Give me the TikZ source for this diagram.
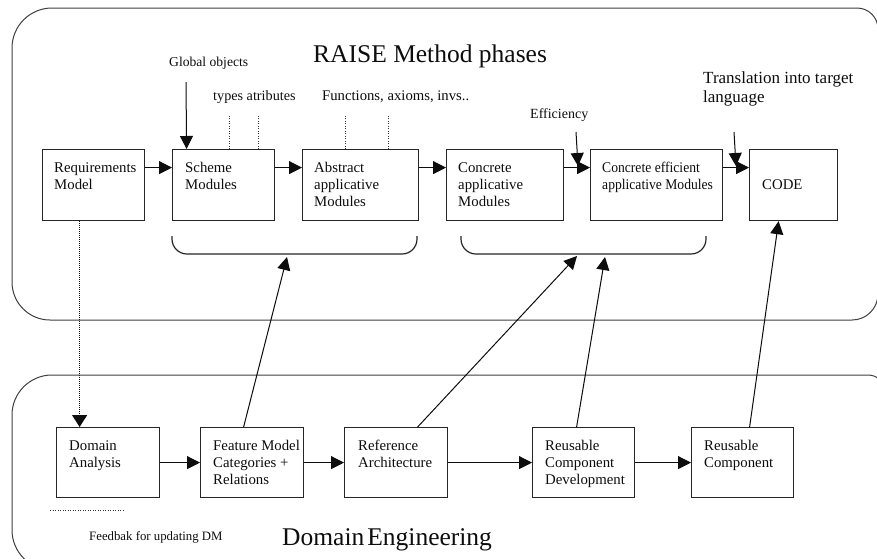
\documentclass[tikz,border=0pt]{standalone}
\usepackage{fontspec}
\setmainfont{Liberation Serif}
\usetikzlibrary{arrows.meta}
\begin{document}
\begin{tikzpicture}[x=1pt,y=-1pt,
  box/.style={draw=black!85, line width=1.2pt, anchor=north west, inner sep=0pt},
  txt/.style={anchor=north west, inner sep=0pt, align=left, text=black!95,
    font={\fontsize{14.8}{17}\selectfont}},
  lbl/.style={anchor=base west, inner sep=0pt, text=black!95},
  arr/.style={draw=black!95, line width=1pt, -{Triangle[length=13pt,width=13pt]}},
  darr/.style={draw=black!95, line width=1.2pt, dash pattern=on 1pt off 1pt, -{Triangle[length=12pt,width=15pt]}},
  tick/.style={draw=black!80, line width=0.8pt, dash pattern=on 1pt off 1.5pt},
  cont/.style={draw=black!75, line width=1pt},
  brace/.style={draw=black!85, line width=1.2pt, rounded corners=15pt}]
\clip (0,0) rectangle (877,558);
\fill[white] (0,0) rectangle (877,558);

% containers
\draw[cont] (12,150) [rounded corners=40pt] -- (12,8) [rounded corners=21pt] -- (878,8)
  [rounded corners=26pt] -- (878,320) [rounded corners=38pt] -- (12,320) -- cycle;
\draw[cont] (12,470) [rounded corners=40pt] -- (12,375) [rounded corners=18pt] -- (886,375)
  -- (886,570) [rounded corners=40pt] -- (12,570) -- cycle;

% titles
\node[lbl, font={\fontsize{25.5}{28}\selectfont}] (title) at (313,62) {RAISE Method phases};
\node[lbl, font={\fontsize{25.5}{28}\selectfont}] (dtitle) at (282,545) {Domain\hspace{3pt}Engineering};

% top row boxes
\node[box, minimum width=102pt, minimum height=71pt] (req) at (42,149) {};
\node[box, minimum width=102pt, minimum height=71pt] (scm) at (172,149) {};
\node[box, minimum width=116pt, minimum height=71pt] (abs) at (302,149) {};
\node[box, minimum width=117pt, minimum height=71pt] (con) at (446,149) {};
\node[box, minimum width=132pt, minimum height=71pt] (eff) at (590,149) {};
\node[box, minimum width=88pt, minimum height=71pt] (code) at (749,149) {};

\node[txt] (reqT) at ([shift={(12pt,-13pt)}]req.north west) {Requirements\\Model};
\node[txt] (scmT) at ([shift={(13pt,-13pt)}]scm.north west) {Scheme\\Modules};
\node[txt] (absT) at ([shift={(12pt,-13pt)}]abs.north west) {Abstract\\applicative\\Modules};
\node[txt] (conT) at ([shift={(12pt,-13pt)}]con.north west) {Concrete\\applicative\\Modules};
\node[txt] (effT) at ([shift={(12pt,-13pt)}]eff.north west) {\scalebox{0.92}[1]{Concrete efficient}\\\scalebox{0.92}[1]{applicative Modules}};
\node[txt, anchor=west] (codeT) at ([xshift=13pt]code.west) {CODE};

% bottom row boxes
\node[box, minimum width=103pt, minimum height=70pt] (dom) at (56,427) {};
\node[box, minimum width=103pt, minimum height=70pt] (feat) at (200,427) {};
\node[box, minimum width=103pt, minimum height=70pt] (ref) at (344,427) {};
\node[box, minimum width=102pt, minimum height=70pt] (rcd) at (532,427) {};
\node[box, minimum width=102pt, minimum height=70pt] (rc) at (691,427) {};

\node[txt] (domT) at ([shift={(13pt,-13pt)}]dom.north west) {Domain\\Analysis};
\node[txt] (featT) at ([shift={(13pt,-13pt)}]feat.north west) {Feature Model\\Categories +\\Relations};
\node[txt] (refT) at ([shift={(14pt,-13pt)}]ref.north west) {Reference\\Architecture};
\node[txt] (rcdT) at ([shift={(13pt,-13pt)}]rcd.north west) {Reusable\\Component\\Development};
\node[txt] (rcT) at ([shift={(13pt,-13pt)}]rc.north west) {Reusable\\Component};

% top row arrows
\draw[arr] ([yshift=17.5pt]req.east) -- ([yshift=17.5pt]scm.west);
\draw[arr] ([yshift=17.5pt]scm.east) -- ([yshift=17.5pt]abs.west);
\draw[arr] ([yshift=17.5pt]abs.east) -- ([yshift=17.5pt]con.west);
\draw[arr] ([yshift=17.5pt]con.east) -- ([yshift=17.5pt]eff.west);
\draw[arr] ([yshift=17.5pt]eff.east) -- ([yshift=17.5pt]code.west);

% bottom row arrows
\draw[arr] (dom.east) -- (feat.west);
\draw[arr] (feat.east) -- (ref.west);
\draw[arr] (ref.east) -- (rcd.west);
\draw[arr] (rcd.east) -- (rc.west);

% labels above
\node[lbl, font={\fontsize{13.6}{16}\selectfont}] (glob) at (169,66) {Global objects};
\coordinate (globS) at (186,82);
\draw[arr] (globS) -- ([xshift=-37pt]scm.north);

\node[lbl, font={\fontsize{14.2}{16}\selectfont}] (types) at (213,100) {types atributes};
\node[lbl, font={\fontsize{14.7}{16}\selectfont}] (funcs) at (322,100) {Functions, axioms, invs..};
\draw[tick] ([xshift=6pt]scm.north) -- ++(0,-34);
\draw[tick] ([xshift=35pt]scm.north) -- ++(0,-34);
\draw[tick] ([xshift=-15pt]abs.north) -- ++(0,-34);
\draw[tick] ([xshift=28pt]abs.north) -- ++(0,-34);

\node[lbl, font={\fontsize{14}{16}\selectfont}] (effic) at (530,118) {Efficiency};
\coordinate (effS) at (576,132);
\coordinate (effE) at (578,166);
\draw[arr] (effS) -- (effE);

\node[anchor=north west, inner sep=0pt, align=left, text=black!95,
  font={\fontsize{17}{19.5}\selectfont}] (trans) at (703,71) {Translation into target\\language};
\coordinate (trS) at (734,132);
\coordinate (trE) at (736,166);
\draw[arr] (trS) -- (trE);

% brackets
\draw[brace] (172,236) -- (172,254) -- (417,254) -- (417,236);
\draw[brace] (461,236) -- (461,254) -- (706,254) -- (706,236);
\coordinate (br1) at (287,257);
\coordinate (br2a) at (577,256);
\coordinate (br2b) at (605,257);

% cross arrows
\draw[arr] ([xshift=-8.5pt]feat.north) -- (br1);
\draw[arr] ([xshift=21.5pt]ref.north) -- (br2a);
\draw[arr] ([xshift=-7pt]rcd.north) -- (br2b);
\draw[arr] ([xshift=7pt]rc.north) -- ([xshift=-15pt]code.south);

% dotted feedback
\draw[darr] ([xshift=-14pt]req.south) -- ([xshift=-28.5pt]dom.north);
\coordinate (fbA) at (50,510);
\coordinate (fbB) at (123,510);
\draw[tick, line width=0.7pt] (fbA) -- (fbB);
\node[lbl, font={\fontsize{12.8}{15}\selectfont}] (fb) at (89,540) {Feedbak for updating DM};
\end{tikzpicture}
\end{document}
